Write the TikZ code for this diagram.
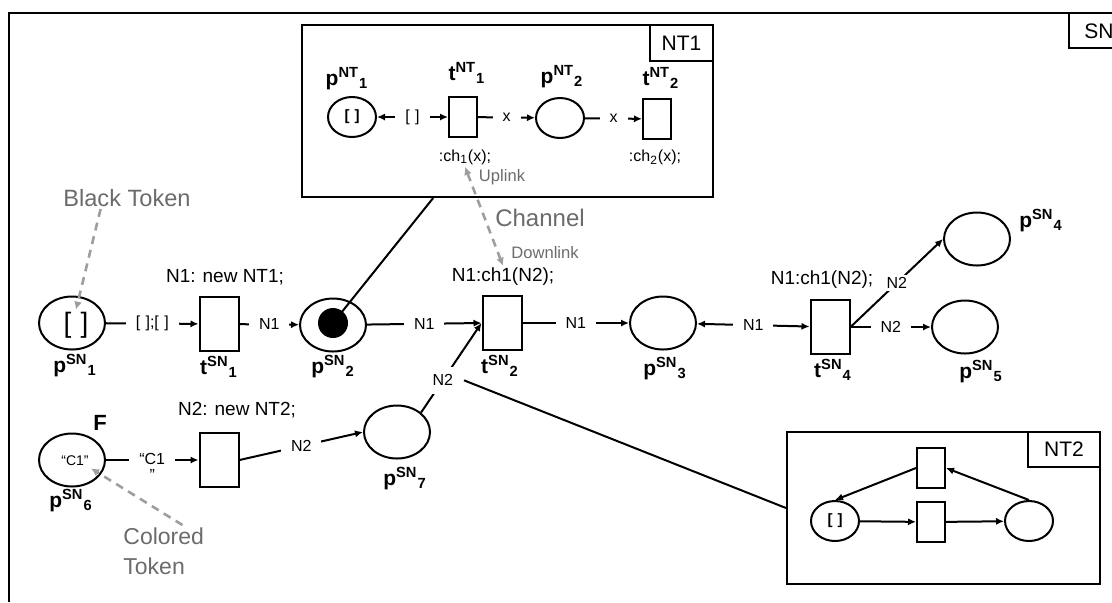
\documentclass[tikz,border=0pt]{standalone}
\usepackage{fontspec}
\setmainfont{Liberation Sans}
\usepackage{tikz}
\usetikzlibrary{arrows.meta,shapes.geometric,calc}
\newcommand{\fsz}[1]{\fontsize{#1}{#1}\selectfont}
\newcommand{\netname}[3]{\textbf{#1\textsuperscript{#2}\textsubscript{#3}}}

\begin{document}
\begin{tikzpicture}[
  x=0.5pt, y=-0.5pt,
  every node/.style={align=center},
  place/.style={ellipse, draw, line width=1pt, minimum width=33pt,
                minimum height=26.5pt, inner sep=0pt},
  splace/.style={place, minimum width=24pt, minimum height=20pt},
  trans/.style={rectangle, draw, line width=1pt, minimum width=19.5pt,
                minimum height=27pt, inner sep=0pt},
  strans/.style={trans, minimum width=14pt, minimum height=20pt},
  arc/.style={-{Latex[length=4pt,width=3.6pt]}, line width=1pt},
  biarc/.style={{Latex[length=4pt,width=3.6pt]}-{Latex[length=4pt,width=3.6pt]},
                line width=1pt},
  alb/.style={fill=white, font=\fsz{8}, inner xsep=5pt, inner ysep=1pt},
  insc/.style={font=\fsz{9.5}, inner sep=1pt},
  nm/.style={font=\fsz{10.5}, anchor=base, inner sep=0pt},
  net/.style={rectangle, draw, line width=1pt, inner sep=0pt},
  tag/.style={rectangle, draw, line width=1pt, font=\fsz{10.5}, inner sep=0pt},
  hint/.style={text=black!58, inner sep=1pt},
  link/.style={draw=black!38, line width=1.3pt, dash pattern=on 4pt off 3pt,
               -{Latex[length=4pt,width=4pt]}},
]
\useasboundingbox (0,0) rectangle (1112,602);

% ---- system net frame ----
\draw[line width=1.4pt] (9,602) -- (9,13) -- (1112,13);
\draw[line width=1pt] (1069,13) -- (1069,48) -- (1112,48);
\node[font=\fsz{10.5}, anchor=west, inner sep=0pt] (snlbl) at (1084,31) {SN};

% ---- element net NT1 ----
\node[net, minimum width=205.5pt, minimum height=86pt] (nt1) at (507.5,111) {};
\node[tag, anchor=north east, minimum width=31.5pt, minimum height=18pt]
  (nt1tag) at (nt1.north east) {NT1};

\node[splace, font=\bfseries\fsz{7.5}] (pnt1) at (352,117) {[\,\,]};
\node[strans] (tnt1) at (463,117) {};
\node[splace] (pnt2) at (560,118) {};
\node[strans] (tnt2) at (657,119) {};

\node[nm] at (347,85) {\netname{p}{NT}{1}};
\node[nm] at (467,80) {\netname{t}{NT}{1}};
\node[nm] at (562,83) {\netname{p}{NT}{2}};
\node[nm] at (661,85) {\netname{t}{NT}{2}};
\node[font=\fsz{8}, inner sep=1pt] (ch1) at (465,157) {:ch\textsubscript{1}(x);};
\node[font=\fsz{8}, inner sep=1pt] (ch2) at (655,157) {:ch\textsubscript{2}(x);};

\draw[biarc] (pnt1) -- node[alb, font=\fsz{8}] {[\,\,]} (tnt1);
\draw[arc] (tnt1) -- node[alb] {x} (pnt2);
\draw[arc] (pnt2) -- node[alb] {x} (tnt2);

% ---- system net, first row ----
\node[place] (psn1) at (72,323) {};
\node[font=\fsz{14}, inner sep=1pt] (brk1) at (76,325) {[\,\,]};
\node[trans] (tsn1) at (219,324) {};
\node[place] (psn2) at (333,325) {};
\node[circle, fill=black, minimum size=15pt, inner sep=0pt] (tok) at (333,323) {};
\node[trans] (tsn2) at (502,323) {};
\node[place] (psn3) at (663,323) {};
\node[trans] (tsn4) at (830,327) {};
\node[place] (psn4) at (977,239) {};
\node[place] (psn5) at (965,327) {};

\node[nm] at (75,372)  {\netname{p}{SN}{1}};
\node[nm] at (219,374) {\netname{t}{SN}{1}};
\node[nm] at (333,373) {\netname{p}{SN}{2}};
\node[nm] at (500,373) {\netname{t}{SN}{2}};
\node[nm] at (665,375) {\netname{p}{SN}{3}};
\node[nm] at (833,377) {\netname{t}{SN}{4}};
\node[nm] at (1041,227){\netname{p}{SN}{4}};
\node[nm] at (981,378) {\netname{p}{SN}{5}};

\node[insc] (ins1) at (225,277) {N1: new NT1;};
\node[insc] (ins2) at (503,277) {N1:ch1(N2);};
\node[insc] (ins4) at (822,280) {N1:ch1(N2);};

\draw[arc] (psn1) -- node[alb] {[\,\,];[\,\,]} (tsn1);
\draw[arc] (tsn1) -- node[alb] {N1} (psn2);
\draw[arc] (psn2) -- node[alb] {N1} (tsn2.west);
\draw[arc] (tsn2) -- node[alb] {N1} (psn3);
\draw[biarc] (psn3) -- node[alb] {N1} (tsn4);
\draw[arc] (tsn4.east) -- node[alb] {N2} (psn4.west);
\draw[arc] (tsn4.east) -- node[alb] {N2} (psn5);

% ---- system net, second row ----
\node[place] (psn6) at (72,460) {};
\node[font=\fsz{7}, inner sep=1pt] (c1tok) at (75,461) {“C1”};
\node[trans] (tsn6) at (219,460) {};
\node[place] (psn7) at (397,432) {};

\node[font=\bfseries\fsz{11}] (fl) at (100,423) {F};
\node[nm] at (71,507)  {\netname{p}{SN}{6}};
\node[nm] at (405,485) {\netname{p}{SN}{7}};
\node[insc] (ins6) at (237,410) {N2: new NT2;};

\draw[arc] (psn6) -- node[alb, yshift=-3.5pt] {“C1\\”} (tsn6);
\draw[arc] (tsn6.east) -- node[alb] {N2} (psn7.west);
\draw[arc] (psn7.north east) -- node[alb, pos=0.36, inner ysep=4pt] (n2b) {N2}
  (tsn2.west);

% ---- element net NT2 ----
\node[net, minimum width=156.5pt, minimum height=76pt] (nt2) at (943.5,508) {};
\node[tag, anchor=north east, minimum width=36pt, minimum height=17.5pt]
  (nt2tag) at (nt2.north east) {NT2};

\node[splace, font=\bfseries\fsz{7.5}] (pa) at (835,521) {[\,\,]};
\node[strans] (ttop) at (931,468) {};
\node[strans] (tmid) at (931,522) {};
\node[splace] (pb) at (1029,521) {};

\draw[arc] (pa) -- (tmid);
\draw[arc] (tmid) -- (pb);
\draw[arc] (pb.north) -- (ttop.east);
\draw[arc] (ttop.west) -- (pa.north);

% ---- references from tokens to nets ----
\draw[line width=1pt] ($(nt1.south west)!0.32!(nt1.south east)$) -- (tok.center);
\draw[line width=1pt] (n2b.east) -- (nt2.west);

% ---- annotations ----
\node[hint, font=\fsz{11.8}] (bt) at (127,198) {Black Token};
\draw[link] ($(bt.south west)!0.3!(bt.south east)$) -- (brk1.north);

\node[hint, font=\fsz{11.5}, align=left, anchor=north west] (ct) at (121,525)
  {Colored\\[3.5pt]Token};
\draw[link] ($(ct.north west)!0.72!(ct.north east)$) -- (c1tok.south east);

\node[hint, font=\fsz{12}] (chn) at (540,218) {Channel};
\node[hint, font=\fsz{8.3}] (upl) at (502,177) {Uplink};
\node[hint, font=\fsz{8.3}] (dnl) at (545,253) {Downlink};
\draw[link, {Latex[length=4pt,width=4pt]}-{Latex[length=4pt,width=4pt]}]
  (ch1.south) -- (ins2.north);
\end{tikzpicture}
\end{document}
